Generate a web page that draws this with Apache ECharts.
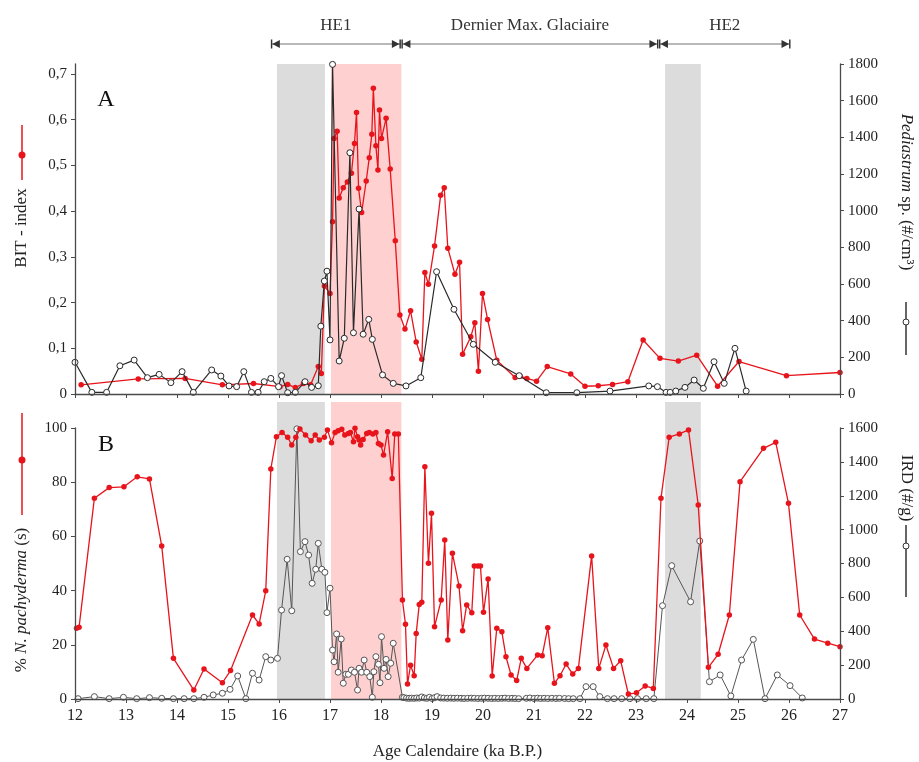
<!DOCTYPE html>
<html><head><meta charset="utf-8">
<script src="https://cdn.jsdelivr.net/npm/echarts@6/dist/echarts.min.js"></script>
<style>html,body{margin:0;padding:0;background:#fff}#c{width:919px;height:762px}</style>
</head><body><div id="c"></div>
<script>
// ---------- DATA ----------
const xTicks = [12,13,14,15,16,17,18,19,20,21,22,23,24,25,26,27];

const bitAge = [12.12,13.24,14.16,14.89,15.5,16.02,16.17,16.32,16.48,16.62,16.77,16.83,16.89,17.0,17.05,17.08,17.14,17.18,17.26,17.34,17.42,17.48,17.52,17.56,17.62,17.71,17.77,17.82,17.85,17.90,17.94,17.97,18.01,18.10,18.18,18.28,18.37,18.47,18.58,18.69,18.80,18.86,18.93,19.05,19.17,19.24,19.31,19.45,19.54,19.60,19.76,19.84,19.91,19.99,20.09,20.27,20.63,20.73,20.86,21.05,21.26,21.72,22.0,22.26,22.54,22.84,23.14,23.47,23.83,24.19,24.60,25.02,25.95,27.0];
const bitIndex = [0.020,0.033,0.034,0.020,0.023,0.016,0.021,0.014,0.023,0.020,0.060,0.045,0.236,0.220,0.377,0.559,0.575,0.429,0.451,0.464,0.483,0.548,0.616,0.450,0.397,0.466,0.517,0.568,0.669,0.543,0.490,0.621,0.559,0.603,0.492,0.335,0.173,0.142,0.182,0.114,0.076,0.266,0.240,0.324,0.435,0.451,0.319,0.262,0.288,0.087,0.125,0.156,0.050,0.220,0.163,0.074,0.036,0.039,0.034,0.028,0.060,0.044,0.017,0.018,0.021,0.027,0.118,0.078,0.072,0.085,0.017,0.071,0.040,0.047];

const pedAge = [12.0,12.33,12.62,12.88,13.16,13.42,13.65,13.88,14.10,14.32,14.68,14.86,15.02,15.17,15.31,15.46,15.59,15.71,15.84,15.99,16.05,16.17,16.32,16.51,16.64,16.77,16.82,16.89,16.94,17.0,17.05,17.18,17.28,17.39,17.46,17.57,17.65,17.76,17.83,18.03,18.24,18.49,18.78,19.09,19.43,19.81,20.24,20.71,21.24,21.84,22.49,23.25,23.42,23.59,23.67,23.78,23.96,24.14,24.32,24.53,24.73,24.94,25.16];
const pedCount = [173,9,9,154,185,89,107,62,122,9,131,98,44,40,122,9,9,67,85,40,100,7,9,67,36,45,370,616,670,295,1798,180,304,1316,334,1009,326,407,298,104,58,44,89,667,462,271,173,100,7,7,16,44,40,9,9,16,36,76,31,176,58,249,16];

const pachyAge = [12.03,12.08,12.38,12.67,12.96,13.22,13.46,13.70,13.93,14.33,14.53,14.89,15.05,15.48,15.61,15.74,15.84,15.95,16.06,16.17,16.25,16.33,16.41,16.52,16.63,16.71,16.79,16.89,16.95,17.03,17.10,17.16,17.23,17.29,17.36,17.40,17.46,17.49,17.54,17.57,17.60,17.65,17.72,17.77,17.84,17.90,17.95,18.00,18.05,18.13,18.22,18.27,18.34,18.42,18.48,18.52,18.58,18.65,18.69,18.75,18.80,18.86,18.93,18.99,19.05,19.18,19.25,19.31,19.40,19.53,19.60,19.68,19.78,19.83,19.90,19.95,20.01,20.10,20.18,20.27,20.37,20.45,20.55,20.66,20.75,20.86,21.07,21.16,21.27,21.40,21.51,21.63,21.76,21.87,22.13,22.27,22.41,22.56,22.70,22.85,23.01,23.18,23.34,23.49,23.65,23.85,24.03,24.22,24.42,24.61,24.83,25.04,25.50,25.74,25.99,26.21,26.50,26.76,27.0];
const pachyPct = [26.1,26.5,74.1,78.0,78.3,82.0,81.2,56.5,15.0,3.3,11.1,6.0,10.5,31.0,27.7,39.9,84.9,96.8,98.3,96.6,93.7,96.6,99.6,97.4,95.3,97.4,95.6,96.6,99.3,94.6,98.3,99.0,99.5,97.4,98.0,98.3,94.9,99.9,96.8,95.6,93.7,95.8,98.0,98.3,97.8,98.3,94.3,93.7,90.0,98.6,81.4,97.8,97.8,36.5,27.6,5.5,12.5,8.6,24.2,34.9,35.7,85.7,50.1,68.5,26.7,36.5,58.7,21.8,53.8,41.7,25.2,34.7,31.8,49.1,49.1,49.1,32.0,44.3,8.5,26.1,24.8,15.6,8.9,6.8,15.0,11.3,16.2,16.0,26.3,5.8,8.6,12.9,9.2,11.3,52.8,11.3,19.9,11.3,14.1,1.8,2.3,4.8,3.9,74.1,96.6,97.8,99.3,71.6,11.7,16.5,31.0,80.2,92.5,94.7,72.2,31.0,22.1,20.6,19.3];

const irdAge = [12.06,12.38,12.67,12.95,13.21,13.46,13.70,13.93,14.14,14.33,14.53,14.71,14.89,15.04,15.19,15.35,15.48,15.61,15.74,15.84,15.97,16.05,16.16,16.25,16.35,16.42,16.51,16.58,16.65,16.72,16.77,16.84,16.90,16.94,17.0,17.05,17.08,17.13,17.16,17.22,17.26,17.31,17.36,17.42,17.48,17.54,17.57,17.62,17.67,17.72,17.78,17.83,17.86,17.90,17.95,17.98,18.01,18.06,18.10,18.14,18.19,18.24,18.42,18.45,18.5,18.55,18.6,18.65,18.7,18.75,18.8,18.85,18.9,18.95,19.0,19.05,19.1,19.17,19.23,19.3,19.37,19.43,19.5,19.57,19.63,19.7,19.77,19.83,19.9,19.97,20.03,20.1,20.17,20.23,20.3,20.37,20.43,20.5,20.57,20.63,20.7,20.85,20.92,21.0,21.07,21.13,21.2,21.27,21.35,21.43,21.5,21.6,21.68,21.77,21.90,22.02,22.16,22.29,22.44,22.57,22.72,22.88,23.03,23.20,23.35,23.52,23.70,24.07,24.25,24.44,24.65,24.86,25.07,25.30,25.53,25.77,26.02,26.26];
const irdCount = [2,14,2,10,2,8,4,2,2,2,10,24,34,57,136,2,152,112,250,230,240,525,825,521,1595,870,929,850,683,766,919,766,748,510,654,289,220,384,158,354,93,146,146,171,158,53,181,158,230,158,132,10,161,250,205,96,368,181,234,132,211,329,10,8,5,4,5,4,6,5,12,6,4,10,3,8,14,6,5,4,5,4,5,4,3,4,5,4,3,4,5,4,3,4,3,4,5,3,4,3,2,4,6,3,5,3,4,3,4,3,4,3,2,2,2,73,73,14,2,2,2,2,2,2,2,551,787,574,933,102,142,18,230,352,2,142,79,6];

const greyBands = [[15.96,16.9],[23.57,24.27]];
const pinkBands = [[17.02,18.4]];
const periodNames = ['HE1','Dernier Max. Glaciaire','HE2'];
const periodStart = [15.85,18.41,23.46];
const periodEnd = [18.38,23.43,26.02];

// ---------- CHART ----------
const RED = '#e8141c';
const FONT = '"Liberation Serif", "DejaVu Serif", serif';
const TXT = '#222';
const AX = '#4a4a4a';
const zip = (a,b) => a.map((v,i)=>[v,b[i]]);

const bands = greyBands.map(b=>[{xAxis:b[0],itemStyle:{color:'#dcdcdc'}},{xAxis:b[1]}])
  .concat(pinkBands.map(b=>[{xAxis:b[0],itemStyle:{color:'#ffd0d0'}},{xAxis:b[1]}]));

const axisLineStyle = {show:true, lineStyle:{color:AX, width:1.3}};
const labelStyle = {fontFamily:FONT, fontSize:15, color:TXT};
const plain = v => String(v);

const startArrow = 'path://M0,0 L1.6,0 L1.6,10 L0,10 Z M1.6,5 L10,0.5 L10,9.5 Z';
const endArrow = 'path://M8.4,0 L10,0 L10,10 L8.4,10 Z M8.4,5 L0,0.5 L0,9.5 Z';

const chart = echarts.init(document.getElementById('c'), null, {renderer:'canvas'});
const option = {
  animation:false,
  backgroundColor:'#fff',
  grid:[
    {left:75, width:765, top:64, height:330},
    {left:75, width:765, top:428, height:271},
    {left:75, width:765, top:43, height:2},
    {left:75, width:765, top:402, height:297}
  ],
  xAxis:[
    {gridIndex:0, type:'value', min:12, max:27, interval:1, z:5,
     axisLine:axisLineStyle, axisTick:{show:true, length:4, lineStyle:{color:AX}}, axisLabel:{show:false}, splitLine:{show:false}},
    {gridIndex:1, type:'value', min:12, max:27, interval:1, z:5,
     axisLine:axisLineStyle, axisTick:{show:true, length:4, lineStyle:{color:AX}},
     axisLabel:{margin:9, fontSize:16, fontFamily:FONT, color:TXT, formatter:plain}, splitLine:{show:false},
     name:'Age Calendaire (ka B.P.)', nameLocation:'middle', nameGap:44,
     nameTextStyle:{fontFamily:FONT, fontSize:17, color:TXT}},
    {gridIndex:2, type:'value', min:12, max:27, show:false},
    {gridIndex:3, type:'value', min:12, max:27, show:false}
  ],
  yAxis:[
    {gridIndex:0, type:'value', position:'left', min:0, max:0.7*330/320, interval:0.1, z:5,
     axisLine:axisLineStyle, axisTick:{show:true, length:4, lineStyle:{color:AX}}, splitLine:{show:false},
     axisLabel:Object.assign({margin:8, showMaxLabel:false, formatter:v=> v>0.7001 ? '' : (v===0 ? '0' : v.toFixed(1).replace('.',','))}, labelStyle)},
    {gridIndex:0, type:'value', position:'right', min:0, max:1800, interval:200, z:5,
     axisLine:axisLineStyle, axisTick:{show:true, length:4, lineStyle:{color:AX}}, splitLine:{show:false},
     axisLabel:Object.assign({margin:8, formatter:plain}, labelStyle)},
    {gridIndex:1, type:'value', position:'left', min:0, max:100, interval:20, z:5,
     axisLine:axisLineStyle, axisTick:{show:true, length:4, lineStyle:{color:AX}}, splitLine:{show:false},
     axisLabel:Object.assign({margin:8, formatter:plain}, labelStyle)},
    {gridIndex:1, type:'value', position:'right', min:0, max:1600, interval:200, z:5,
     axisLine:axisLineStyle, axisTick:{show:true, length:4, lineStyle:{color:AX}}, splitLine:{show:false},
     axisLabel:Object.assign({margin:8, formatter:plain}, labelStyle)},
    {gridIndex:2, type:'value', min:-1, max:1, show:false},
    {gridIndex:3, type:'value', min:0, max:1, show:false}
  ],
  series:[
    {type:'line', xAxisIndex:0, yAxisIndex:0, data:[], z:1, silent:true,
     markArea:{silent:true, data:bands}},
    {type:'line', xAxisIndex:3, yAxisIndex:5, data:[], z:1, silent:true,
     markArea:{silent:true, data:bands}},
    {type:'line', xAxisIndex:2, yAxisIndex:4, data:[], z:3, silent:true,
     markLine:{silent:true, symbol:['none','none'],
       lineStyle:{color:'#a0a0a0', width:1.5, type:'solid'},
       label:{show:true, position:'middle', formatter:'{b}', distance:10, fontFamily:FONT, fontSize:17, color:'#333'},
       data: periodNames.map((n,i)=>[{coord:[periodStart[i],0], name:n},{coord:[periodEnd[i],0]}])},
     markPoint:{silent:true, label:{show:false},
       data: periodNames.flatMap((n,i)=>[
         {coord:[periodStart[i],0], symbol:startArrow, symbolSize:[9,9], symbolOffset:[4,0], itemStyle:{color:'#333'}},
         {coord:[periodEnd[i],0], symbol:endArrow, symbolSize:[9,9], symbolOffset:[-4,0], itemStyle:{color:'#333'}}
       ])}},
    {name:'BIT - index', type:'line', xAxisIndex:0, yAxisIndex:0, data:zip(bitAge,bitIndex), z:3,
     symbol:'circle', symbolSize:5.5, lineStyle:{color:RED, width:1.3}, itemStyle:{color:RED}},
    {name:'Pediastrum', type:'line', xAxisIndex:0, yAxisIndex:1, data:zip(pedAge,pedCount), z:4,
     symbol:'circle', symbolSize:6, lineStyle:{color:'#2a2a2a', width:1.2},
     itemStyle:{color:'#fff', borderColor:'#2a2a2a', borderWidth:1}},
    {name:'IRD', type:'line', xAxisIndex:1, yAxisIndex:3, data:zip(irdAge,irdCount), z:3,
     symbol:'circle', symbolSize:6, lineStyle:{color:'#555', width:1},
     itemStyle:{color:'#fff', borderColor:'#555', borderWidth:1}},
    {name:'N. pachyderma', type:'line', xAxisIndex:1, yAxisIndex:2, data:zip(pachyAge,pachyPct), z:4,
     symbol:'circle', symbolSize:5.5, lineStyle:{color:RED, width:1.3}, itemStyle:{color:RED}}
  ],
  graphic:[
    {type:'text', x:106, y:100, style:{text:'A', fontFamily:FONT, fontSize:24, fill:'#111', align:'center', verticalAlign:'middle'}},
    {type:'text', x:106, y:445, style:{text:'B', fontFamily:FONT, fontSize:24, fill:'#111', align:'center', verticalAlign:'middle'}},
    {type:'text', x:22, y:228, rotation:Math.PI/2, style:{text:'BIT - index', fontFamily:FONT, fontSize:17, fill:TXT, align:'center', verticalAlign:'middle'}},
    {type:'line', shape:{x1:22,y1:125,x2:22,y2:180}, style:{stroke:RED, lineWidth:1.5}},
    {type:'circle', shape:{cx:22,cy:155,r:3.5}, style:{fill:RED}},
    {type:'text', x:22, y:600, rotation:Math.PI/2, style:{
      text:'{n|% }{i|N. pachyderma}{n| (s)}', fill:TXT, align:'center', verticalAlign:'middle',
      fontFamily:FONT, fontSize:17,
      rich:{n:{fontFamily:FONT, fontSize:17, fill:TXT}, i:{fontFamily:FONT, fontSize:17, fontStyle:'italic', fill:TXT}}}},
    {type:'line', shape:{x1:22,y1:413,x2:22,y2:515}, style:{stroke:RED, lineWidth:1.5}},
    {type:'circle', shape:{cx:22,cy:460,r:3.5}, style:{fill:RED}},
    {type:'text', x:906, y:192, rotation:-Math.PI/2, style:{
      text:'{i|Pediastrum}{n| sp. (#/cm³)}', fill:TXT, align:'center', verticalAlign:'middle',
      fontFamily:FONT, fontSize:17,
      rich:{n:{fontFamily:FONT, fontSize:17, fill:TXT}, i:{fontFamily:FONT, fontSize:17, fontStyle:'italic', fill:TXT}}}},
    {type:'line', shape:{x1:906,y1:302,x2:906,y2:355}, style:{stroke:'#333', lineWidth:1.5}},
    {type:'circle', shape:{cx:906,cy:322,r:3}, style:{fill:'#fff', stroke:'#333', lineWidth:1}},
    {type:'text', x:906, y:488, rotation:-Math.PI/2, style:{text:'IRD (#/g)', fontFamily:FONT, fontSize:17, fill:TXT, align:'center', verticalAlign:'middle'}},
    {type:'line', shape:{x1:906,y1:525,x2:906,y2:597}, style:{stroke:'#333', lineWidth:1.5}},
    {type:'circle', shape:{cx:906,cy:546,r:3}, style:{fill:'#fff', stroke:'#333', lineWidth:1}}
  ]
};
chart.setOption(option);
</script>
</body></html>
